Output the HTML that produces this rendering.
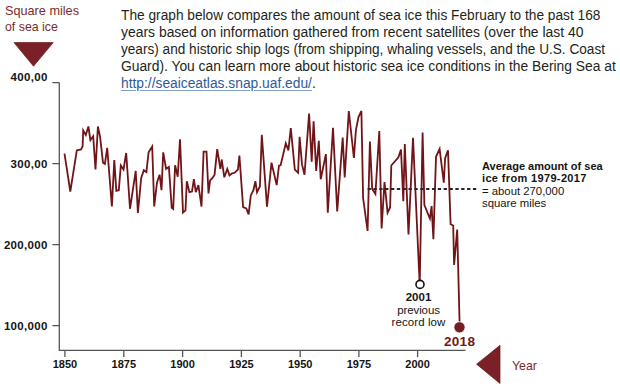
<!DOCTYPE html>
<html><head><meta charset="utf-8">
<style>
html,body{margin:0;padding:0;background:#fff;}
body{width:620px;height:386px;position:relative;overflow:hidden;font-family:"Liberation Sans",sans-serif;}
.t{position:absolute;white-space:nowrap;line-height:1;transform-origin:0 0;}
.p{left:121px;font-size:15.4px;color:#231f20;}
.p a{color:#2f5a98;text-decoration:underline;text-decoration-color:#7f9cc6;text-underline-offset:1.5px;}
.yl{left:5px;font-size:13px;color:#7b2a2e;transform:scaleX(0.95);}
.ax{font-weight:bold;font-size:11.5px;color:#141414;text-align:right;width:47.6px;left:0;letter-spacing:0.3px;}
.yr{font-weight:bold;font-size:11px;color:#141414;text-align:center;width:40px;top:359.4px;}
.an{left:482px;font-size:11px;color:#141414;}
.rc{left:378.5px;width:80px;text-align:center;font-size:11px;color:#141414;}
svg{position:absolute;left:0;top:0;}
</style></head><body>
<svg width="620" height="386" viewBox="0 0 620 386">
  <polygon points="14,42.6 53.2,42.6 33.5,66.2" fill="#7a2026" stroke="#6a1419" stroke-width="0.7"/>
  <polygon points="476.6,364.2 500,345.3 500,383.5" fill="#7a2026" stroke="#6a1419" stroke-width="0.7"/>
  <g stroke="#555" stroke-width="1.3" fill="none">
    <path d="M59.3,82.6 V350.3 H465.5"/>
    <path d="M52.4,82.6 H59.3 M52.4,163.6 H59.3 M52.4,244.6 H59.3 M52.4,325.6 H59.3"/>
    <path d="M64.9,350.3 V357 M123.8,350.3 V357 M182.6,350.3 V357 M241.4,350.3 V357 M300.2,350.3 V357 M358.9,350.3 V357 M417.6,350.3 V357"/>
  </g>
  <polyline points="64.5,153.7 70.3,191.5 76.8,150.4 81.0,149.5 82.6,146.5 83.2,130.4 85.8,134.9 88.4,126.5 90.4,140.1 93.2,136.2 95.5,169.5 97.9,126.5 100.1,136.8 103.0,162.7 104.9,164.0 107.2,147.8 111.9,206.5 114.3,160.1 116.3,190.9 118.8,190.2 120.8,165.5 123.5,169.5 126.2,153.0 130.0,208.8 135.7,170.8 137.9,213.0 141.2,177.9 143.8,170.2 146.4,172.1 148.6,152.4 152.2,146.5 154.2,206.5 157,182.5 159.6,174.7 161.5,190.2 163.2,152.4 166.1,169 168.9,167 171.7,207.8 173.2,209 175.1,165.3 177.7,176.7 180,139.4 183.0,212.6 185.5,210.3 186.8,181.2 189.4,192.2 192,191.5 193.9,179.2 195.8,192.2 198.4,185.1 201.5,206.5 203.6,151.7 206.5,151.7 208.5,193.5 210.1,180.5 212.3,178.2 214.6,174.7 217.2,149.1 220.4,169 221.7,159.5 224.3,177.3 227.3,169 229.5,175.4 232.1,173.4 234.7,172.8 237.9,169.5 239.4,155.6 243.1,207.1 246.3,208.4 248.6,214.4 250.8,195.4 253.4,190.2 255.4,181.2 257,192.2 259.9,186.4 261.8,134.9 267,206.6 271.5,162.7 276.7,185.1 279.0,165.5 280.6,165.3 285.8,143.3 288.4,150.4 290.8,128 294.8,169.6 298.1,172.8 299.6,136.9 302,164.4 304.5,174.8 309.1,113.6 311.7,161.8 313.6,121.4 316.2,170.9 318.8,140.8 320.7,179.3 325.9,154.1 327.8,212.7 333,127.8 337.2,211.4 342.7,137.5 344.7,177.4 348.8,111 353.9,158 355.9,130 358.5,117 361.4,111 363.1,198 367.6,231 369.9,141.5 372.2,188.9 375.4,194 379.3,131 381.6,228.5 384.5,182 387.6,212.8 390.1,207.5 391.3,165.5 398.4,157.3 401.0,149.6 403.3,201.3 404.8,144.1 408.5,234.5 413.0,137.9 419.7,284.6 422.6,132.6 424.4,205 429.9,218.5 431.6,206.1 433.4,239.3 436,156.8 439.6,149 443.8,182.6 445.1,158.1 448,150.4 450.6,224.2 453.2,225.5 454.1,265 457.2,229.5 459.7,327.4" fill="none" stroke="#701418" stroke-width="1.8" stroke-linejoin="miter" stroke-miterlimit="4"/>
  <path d="M367.6,189 H476.3" stroke="#262626" stroke-width="1.8" stroke-dasharray="3.3,2.55"/>
  <circle cx="420" cy="284.4" r="4" fill="#fff" stroke="#111" stroke-width="1.6"/>
  <circle cx="459.5" cy="327.3" r="5.6" fill="#761d24" stroke="#fff" stroke-width="0.8"/>
</svg>
<div class="t p" style="top:6.8px;transform:scaleX(0.891)">The graph below compares the amount of sea ice this February to the past 168</div>
<div class="t p" style="top:23.7px;transform:scaleX(0.904)">years based on information gathered from recent satellites (over the last 40</div>
<div class="t p" style="top:40.6px;transform:scaleX(0.884)">years) and historic ship logs (from shipping, whaling vessels, and the U.S. Coast</div>
<div class="t p" style="top:57.5px;transform:scaleX(0.898)">Guard). You can learn more about historic sea ice conditions in the Bering Sea at</div>
<div class="t p" style="top:75px;transform:scaleX(0.896)"><a>http://seaiceatlas.snap.uaf.edu/</a>.</div>
<div class="t yl" style="top:4.1px;left:5px;transform:scaleX(0.975);">Square miles</div>
<div class="t yl" style="top:20.3px;">of sea ice</div>
<div class="t ax" style="top:72.1px;">400,00</div>
<div class="t ax" style="top:158.5px;">300,00</div>
<div class="t ax" style="top:240px;">200,000</div>
<div class="t ax" style="top:320.7px;">100,000</div>
<div class="t yr" style="left:44.9px;">1850</div>
<div class="t yr" style="left:103.8px;">1875</div>
<div class="t yr" style="left:162.6px;">1900</div>
<div class="t yr" style="left:221.4px;">1925</div>
<div class="t yr" style="left:280.2px;">1950</div>
<div class="t yr" style="left:338.9px;">1975</div>
<div class="t yr" style="left:397.6px;">2000</div>
<div class="t an" style="top:161px;font-weight:bold;">Average amount of sea</div>
<div class="t an" style="top:173.2px;font-weight:bold;letter-spacing:0.35px;">ice from 1979-2017</div>
<div class="t an" style="top:185.5px;font-size:11.5px;transform:scaleX(0.985);">= about 270,000</div>
<div class="t an" style="top:197.7px;font-size:11.5px;transform:scaleX(0.985);">square miles</div>
<div class="t rc" style="top:292.3px;font-weight:bold;font-size:11.5px;">2001</div>
<div class="t rc" style="top:304.8px;font-size:11.5px;letter-spacing:-0.1px;">previous</div>
<div class="t rc" style="top:316.9px;font-size:11.5px;letter-spacing:0.1px;">record low</div>
<div class="t" style="left:444px;top:334.9px;font-size:13.5px;font-weight:bold;color:#6f1a20;letter-spacing:0.3px;">2018</div>
<div class="t" style="left:511.5px;top:358.8px;font-size:13px;color:#7b2a2e;transform:scaleX(0.95);">Year</div>
</body></html>
